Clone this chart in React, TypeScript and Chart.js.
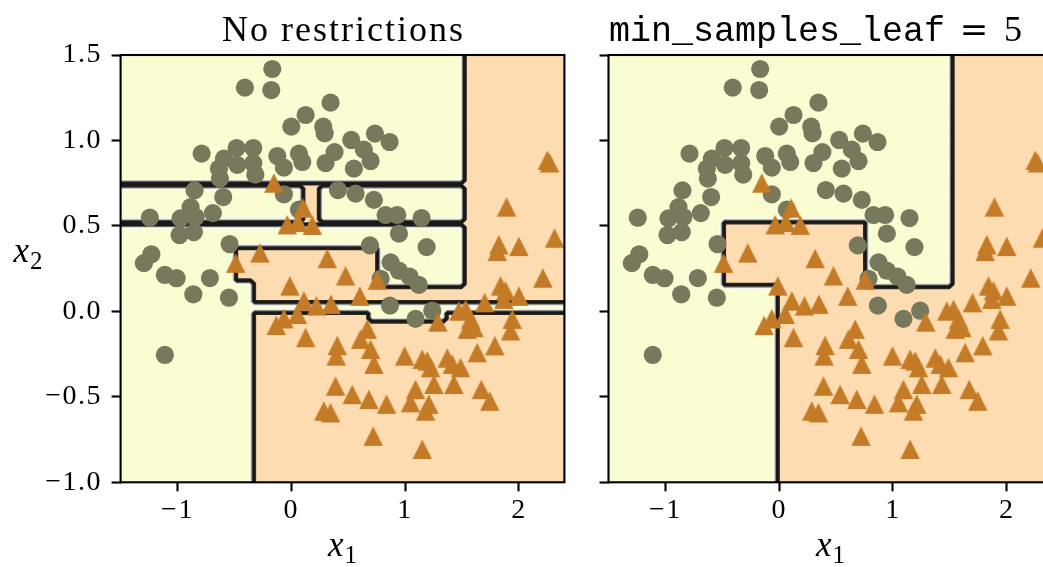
import React, { useEffect, useRef } from "react";
import { Chart, registerables } from "chart.js";

Chart.register(...registerables);

// ---------------- data ----------------
const X_RANGE = [-1.5, 2.4];
const Y_RANGE = [-1.0, 1.5];
const X_TICKS = [-1, 0, 1, 2];
const Y_TICKS = [-1.0, -0.5, 0.0, 0.5, 1.0, 1.5];

const TITLE_LEFT = "No restrictions";
const TITLE_RIGHT_CODE = "min_samples_leaf";
const TITLE_RIGHT_EQ = "=";
const TITLE_RIGHT_VAL = "5";

// class 0 (circles)
const CLASS0_X = [-0.167, -0.408, -0.176, 0.345, 0.126, 0.0, 0.281, 0.293, -0.788, -0.481, -0.334, -0.592, -0.475, -0.334, -0.636, -0.627, -0.316, -0.123, -0.065, 0.067, 0.097, 0.301, 0.38, 0.41, -0.065, 0.067, -0.85, -0.598, -1.243, -0.885, -0.973, -0.841, -0.689, -0.982, -0.856, -0.542, -1.23, -1.295, -1.111, -1.008, -0.861, -0.715, -0.548, -1.111, 0.527, 0.735, 0.864, 0.638, 0.697, 0.55, 0.565, 0.726, 0.829, 0.931, 1.145, 0.946, 0.691, 1.189, 0.873, 0.785, 0.946, 1.04, 1.121, 0.867, 1.092, 1.239];
const CLASS0_Y = [1.418, 1.309, 1.295, 1.221, 1.149, 1.081, 1.081, 1.042, 0.923, 0.956, 0.956, 0.894, 0.857, 0.867, 0.835, 0.777, 0.8, 0.909, 0.841, 0.923, 0.874, 0.868, 0.932, 0.71, 0.685, 0.595, 0.708, 0.669, 0.548, 0.61, 0.544, 0.552, 0.575, 0.447, 0.464, 0.394, 0.334, 0.282, 0.213, 0.194, 0.1, 0.195, 0.08, -0.255, 1.003, 1.04, 0.991, 0.946, 0.88, 0.835, 0.689, 0.652, 0.564, 0.564, 0.546, 0.455, 0.386, 0.376, 0.287, 0.191, 0.238, 0.203, 0.155, 0.034, -0.044, 0.004];

// class 1 (triangles)
const CLASS1_X = [-0.153, 0.105, -0.035, 0.058, 0.185, -0.276, -0.489, 0.316, -0.012, 0.111, 0.222, 0.35, -0.065, -0.132, 0.053, 0.126, 0.404, 0.395, 0.389, 0.286, 0.345, 0.477, 0.756, 0.603, 2.211, 1.839, 1.883, 2.0, 1.699, 1.532, 1.473, 1.868, 1.288, 1.576, 1.547, 1.605, 1.942, 1.927, 1.789, 1.634, 0.668, 0.609, 0.697, 0.726, 0.996, 1.151, 1.195, 1.224, 1.371, 1.415, 1.488, 1.253, 1.429, 1.092, 1.048, 1.209, 1.18, 0.536, 0.682, 0.837, 1.67, 1.745, 0.72, 1.151, 2.25, 2.27, 1.892, 1.824, 1.81, 2.0, 2.314];
const CLASS1_Y = [0.747, 0.601, 0.503, 0.517, 0.5, 0.338, 0.278, 0.305, 0.145, 0.057, 0.028, 0.038, -0.047, -0.086, -0.021, -0.157, -0.204, -0.265, -0.441, -0.587, -0.597, 0.204, 0.179, 0.085, 0.191, 0.145, 0.116, 0.085, 0.047, 0.008, -0.002, 0.067, -0.066, -0.05, -0.108, -0.098, -0.05, -0.118, -0.205, -0.245, -0.108, -0.167, -0.226, -0.313, -0.265, -0.284, -0.294, -0.333, -0.277, -0.313, -0.333, -0.431, -0.431, -0.461, -0.538, -0.547, -0.587, -0.49, -0.519, -0.547, -0.461, -0.529, -0.734, -0.811, 0.88, 0.865, 0.607, 0.386, 0.347, 0.376, 0.425];

// tree leaves: [xMin, xMax, yMin, yMax, predicted class]; later leaves override earlier ones
const LEAVES_NO_RESTRICTIONS = [
  [1.52, 2.4, 0.048, 1.5, 1],
  [-1.5, 1.52, 0.735, 0.75, 1],
  [-1.5, 1.52, 0.505, 0.525, 1],
  [0.097, 0.243, 0.515, 0.745, 1],
  [-0.49, 0.756, 0.165, 0.379, 1],
  [-0.33, 0.756, 0.048, 0.165, 1],
  [0.756, 1.52, 0.048, 0.145, 1],
  [-0.322, 2.4, -1.0, 0.0, 1],
  [0.7, 1.37, -0.05, 0.0, 0],
];
const LEAVES_MIN_LEAF_5 = [
  [1.52, 2.4, 0.15, 1.5, 1],
  [-0.03, 2.4, -1.0, 0.15, 1],
  [-0.49, 0.75, 0.15, 0.525, 1],
];

// ---------------- style ----------------
const FILL0 = "#f9fdd1";
const FILL1 = "#fedcb1";
const COLOR0 = "#78785c";
const COLOR1 = "#c47b27";
const H = 567;
const AXES_TOP = 55;
const AXES_BOTTOM = 482.3;
const AXES_W = 443.8;
const SERIF = '"Liberation Serif", "Times New Roman", serif';

const fmtNum = (s: string) => (s.startsWith("-") ? "\u2212" + s.slice(1) : s);

function predict(leaves: number[][], x: number, y: number) {
  let c = 0;
  for (const l of leaves) if (x >= l[0] && x <= l[1] && y >= l[2] && y <= l[3]) c = l[4];
  return c;
}

function makeTriangle(color: string) {
  const c = document.createElement("canvas");
  c.width = 26;
  c.height = 26;
  const g = c.getContext("2d")!;
  const h = 7.8;
  g.beginPath();
  g.moveTo(13, 13 - h);
  g.lineTo(13 + h, 13 + h);
  g.lineTo(13 - h, 13 + h);
  g.closePath();
  g.fillStyle = color;
  g.fill();
  g.strokeStyle = color;
  g.lineWidth = 2.4;
  g.lineJoin = "miter";
  g.stroke();
  return c;
}

function decisionPlugin(leaves: number[][]) {
  return {
    id: "decision",
    beforeDraw(chart: any) {
      (chart.ctx as any).letterSpacing = "1.5px";
    },
    beforeDatasetsDraw(chart: any) {
      const { ctx, chartArea: a } = chart;
      const sx = chart.scales.x;
      const sy = chart.scales.y;
      const N = 100;
      const dx = (X_RANGE[1] - X_RANGE[0]) / (N - 1);
      const dy = (Y_RANGE[1] - Y_RANGE[0]) / (N - 1);
      const gx = (i: number) => X_RANGE[0] + i * dx;
      const gy = (j: number) => Y_RANGE[0] + j * dy;
      const z: number[][] = [];
      for (let j = 0; j < N; j++) {
        const row: number[] = [];
        for (let i = 0; i < N; i++) row.push(predict(leaves, gx(i), gy(j)));
        z.push(row);
      }
      ctx.save();
      ctx.beginPath();
      ctx.rect(a.left, a.top, a.right - a.left, a.bottom - a.top);
      ctx.clip();
      ctx.fillStyle = FILL0;
      ctx.fillRect(a.left, a.top, a.right - a.left, a.bottom - a.top);
      ctx.beginPath();
      for (let j = 0; j < N; j++) {
        let i = 0;
        while (i < N) {
          if (z[j][i] === 1) {
            let k = i;
            while (k + 1 < N && z[j][k + 1] === 1) k++;
            const x0 = sx.getPixelForValue(gx(i) - dx / 2);
            const x1 = sx.getPixelForValue(gx(k) + dx / 2);
            const y0 = sy.getPixelForValue(gy(j) + dy / 2);
            const y1 = sy.getPixelForValue(gy(j) - dy / 2);
            ctx.rect(x0, y0, x1 - x0, y1 - y0);
            i = k + 1;
          } else i++;
        }
      }
      ctx.fillStyle = FILL1;
      ctx.fill();

      // contour lines (levels 0.2..0.8, Greys colormap, alpha 0.8)
      const levels = [0.2, 0.4, 0.6, 0.8];
      const greys = [255, 198, 104, 0];
      ctx.lineWidth = 3.9;
      ctx.lineCap = "round";
      ctx.lineJoin = "round";
      levels.forEach((L, li) => {
        const f = (v: number) => (v === 0 ? L : 1 - L);
        ctx.beginPath();
        for (let j = 0; j < N - 1; j++) {
          for (let i = 0; i < N - 1; i++) {
            const v00 = z[j][i], v10 = z[j][i + 1], v01 = z[j + 1][i], v11 = z[j + 1][i + 1];
            if (v00 === v10 && v00 === v01 && v00 === v11) continue;
            const b = v00 !== v10 ? [gx(i) + f(v00) * dx, gy(j)] : null;
            const r = v10 !== v11 ? [gx(i + 1), gy(j) + f(v10) * dy] : null;
            const t = v01 !== v11 ? [gx(i) + f(v01) * dx, gy(j + 1)] : null;
            const l = v00 !== v01 ? [gx(i), gy(j) + f(v00) * dy] : null;
            const segs: number[][][] = [];
            const pts = [b, r, t, l].filter(Boolean) as number[][];
            if (pts.length === 2) segs.push(pts);
            else if (pts.length === 4) {
              const cornerIs = L < 0.5 ? 0 : 1;
              if (v00 === cornerIs) {
                segs.push([b!, l!]);
                segs.push([t!, r!]);
              } else {
                segs.push([b!, r!]);
                segs.push([t!, l!]);
              }
            }
            for (const s of segs) {
              ctx.moveTo(sx.getPixelForValue(s[0][0]), sy.getPixelForValue(s[0][1]));
              ctx.lineTo(sx.getPixelForValue(s[1][0]), sy.getPixelForValue(s[1][1]));
            }
          }
        }
        const g = greys[li];
        ctx.strokeStyle = `rgba(${g},${g},${g},0.8)`;
        ctx.stroke();
      });
      ctx.restore();
    },
  };
}

function drawSubLabel(ctx: CanvasRenderingContext2D, base: string, sub: string, cx: number, baseline: number) {
  ctx.font = `italic 35px ${SERIF}`;
  const w1 = ctx.measureText(base).width;
  ctx.font = `25px ${SERIF}`;
  const w2 = ctx.measureText(sub).width;
  const x0 = cx - (w1 + w2 + 1) / 2;
  ctx.textAlign = "left";
  ctx.font = `italic 35px ${SERIF}`;
  ctx.fillText(base, x0, baseline);
  ctx.font = `25px ${SERIF}`;
  ctx.fillText(sub, x0 + w1 + 1, baseline + 7);
}

function framePlugin(which: "left" | "right") {
  return {
    id: "frame",
    afterDatasetsDraw(chart: any) {
      const { ctx, chartArea: a } = chart;
      ctx.save();
      ctx.strokeStyle = "#000";
      ctx.lineWidth = 2.1;
      ctx.strokeRect(a.left, a.top, a.right - a.left, a.bottom - a.top);
      ctx.restore();
    },
    afterDraw(chart: any) {
      const { ctx, chartArea: a } = chart;
      const cx = (a.left + a.right) / 2;
      ctx.save();
      ctx.fillStyle = "#000";
      ctx.textBaseline = "alphabetic";
      if (which === "left") {
        ctx.font = `36px ${SERIF}`;
        (ctx as any).letterSpacing = "2px";
        ctx.textAlign = "center";
        ctx.fillText(TITLE_LEFT, cx + 1, 41);
        (ctx as any).letterSpacing = "0px";
        drawSubLabel(ctx, "x", "2", 28, 262);
      } else {
        (ctx as any).letterSpacing = "0px";
        ctx.textAlign = "left";
        ctx.font = '35px "Liberation Mono", "DejaVu Sans Mono", monospace';
        const x0 = a.left + 0.5;
        ctx.fillText(TITLE_RIGHT_CODE, x0, 41);
        const wCode = ctx.measureText(TITLE_RIGHT_CODE).width;
        ctx.font = '34px "DejaVu Serif", serif';
        ctx.textAlign = "center";
        ctx.fillText(TITLE_RIGHT_EQ, x0 + wCode + 29, 41);
        ctx.font = `36px ${SERIF}`;
        ctx.fillText(TITLE_RIGHT_VAL, x0 + wCode + 68, 41);
      }
      (ctx as any).letterSpacing = "0px";
      drawSubLabel(ctx, "x", "1", cx, 556);
      ctx.restore();
    },
  };
}

function makeChart(canvas: HTMLCanvasElement, axesLeft: number, leaves: number[][], which: "left" | "right") {
  const W = canvas.width;
  const tri = makeTriangle(COLOR1);
  const tickFont = { family: SERIF, size: 28 };
  return new Chart(canvas, {
    type: "scatter",
    data: {
      datasets: [
        {
          data: CLASS1_X.map((x, i) => ({ x, y: CLASS1_Y[i] })),
          pointStyle: tri as any,
          pointRadius: 10,
          backgroundColor: COLOR1,
          borderWidth: 0,
          order: 1,
        },
        {
          data: CLASS0_X.map((x, i) => ({ x, y: CLASS0_Y[i] })),
          pointStyle: "circle",
          pointRadius: 9.1,
          backgroundColor: COLOR0,
          borderWidth: 0,
          order: 2,
        },
      ],
    },
    options: {
      responsive: false,
      animation: false,
      events: [],
      layout: { padding: { left: 0, top: AXES_TOP, right: W - (axesLeft + AXES_W), bottom: 0 } },
      plugins: { legend: { display: false }, tooltip: { enabled: false }, title: { display: false } },
      scales: {
        x: {
          type: "linear",
          min: X_RANGE[0],
          max: X_RANGE[1],
          afterBuildTicks: (s: any) => {
            s.ticks = X_TICKS.map((v) => ({ value: v }));
          },
          afterFit: (s: any) => {
            s.height = H - AXES_BOTTOM;
          },
          ticks: {
            font: tickFont,
            color: "#000",
            padding: 3,
            autoSkip: false,
            maxRotation: 0,
            callback: (v: any) => fmtNum(String(v)),
          },
          grid: { drawOnChartArea: false, drawTicks: true, tickLength: 9, tickColor: "#000", tickWidth: 2.1 },
          border: { display: false },
        },
        y: {
          type: "linear",
          min: Y_RANGE[0],
          max: Y_RANGE[1],
          afterBuildTicks: (s: any) => {
            s.ticks = Y_TICKS.map((v) => ({ value: v }));
          },
          afterFit: (s: any) => {
            s.width = axesLeft;
          },
          ticks: {
            display: which === "left",
            font: tickFont,
            color: "#000",
            padding: 9.5,
            autoSkip: false,
            callback: (v: any) => fmtNum(Number(v).toFixed(1)),
          },
          grid: { drawOnChartArea: false, drawTicks: true, tickLength: 9, tickColor: "#000", tickWidth: 2.1 },
          border: { display: false },
        },
      },
    } as any,
    plugins: [decisionPlugin(leaves), framePlugin(which)],
  });
}

export default function App() {
  const c1 = useRef<HTMLCanvasElement>(null);
  const c2 = useRef<HTMLCanvasElement>(null);
  useEffect(() => {
    document.body.style.margin = "0";
    const charts = [
      makeChart(c1.current!, 120.6, LEAVES_NO_RESTRICTIONS, "left"),
      makeChart(c2.current!, 608.5 - 587, LEAVES_MIN_LEAF_5, "right"),
    ];
    return () => charts.forEach((c) => c.destroy());
  }, []);
  return (
    <div style={{ position: "fixed", left: 0, top: 0, width: 1043, height: H, overflow: "hidden", background: "#fff" }}>
      <canvas ref={c1} width={587} height={H} style={{ position: "absolute", left: 0, top: 0, width: 587, height: H }} />
      <canvas ref={c2} width={480} height={H} style={{ position: "absolute", left: 587, top: 0, width: 480, height: H }} />
    </div>
  );
}
